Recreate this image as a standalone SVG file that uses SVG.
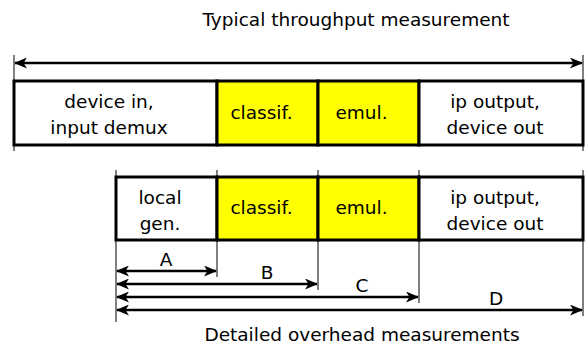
<svg xmlns="http://www.w3.org/2000/svg" width="587" height="345" viewBox="0 0 587 345">
<style>
text{font-family:"DejaVu Sans",sans-serif;font-size:18.5px;fill:#000;text-anchor:middle}
.box{stroke:#000;stroke-width:3}
.w{fill:#fff}.y{fill:#ffff00}
.tick{stroke:#000;stroke-width:1;fill:none}
.arr{stroke:#000;stroke-width:2.5;fill:none;marker-start:url(#ah);marker-end:url(#ah)}
</style>
<defs>
<marker id="ah" viewBox="0 0 13 11" refX="12" refY="5.5" markerWidth="13" markerHeight="11" markerUnits="userSpaceOnUse" orient="auto-start-reverse">
<path d="M0,0 L13,5.5 L0,11 L3.5,5.5 Z" fill="#000"/>
</marker>
</defs>
<rect width="587" height="345" fill="#fff"/>
<text x="356" y="26">Typical throughput measurement</text>
<text x="362" y="341">Detailed overhead measurements</text>
<g id="connectors">
<line class="tick" x1="14" y1="55" x2="14" y2="151"/>
<line class="tick" x1="583" y1="55" x2="583" y2="151"/>
<line class="arr" x1="15" y1="63" x2="582" y2="63"/>
<line class="tick" x1="116" y1="170" x2="116" y2="322"/>
<line class="tick" x1="217" y1="170" x2="217" y2="277"/>
<line class="tick" x1="318" y1="170" x2="318" y2="290"/>
<line class="tick" x1="419" y1="170" x2="419" y2="303"/>
<line class="tick" x1="583" y1="170" x2="583" y2="316"/>
<line class="arr" x1="117" y1="271" x2="216" y2="271"/>
<line class="arr" x1="117" y1="284" x2="317" y2="284"/>
<line class="arr" x1="117" y1="297" x2="418" y2="297"/>
<line class="arr" x1="117" y1="310" x2="582" y2="310"/>
<text x="166" y="266">A</text>
<text x="267" y="279">B</text>
<text x="362" y="292">C</text>
<text x="496" y="305">D</text>
</g>
<g id="top-device-in">
<rect class="box w" x="14" y="81" width="203" height="64"/>
<text x="109" y="108">device in,</text>
<text x="109" y="134">input demux</text>
</g>
<g id="top-classif">
<rect class="box y" x="217" y="81" width="101" height="64"/>
<text x="261.5" y="119">classif.</text>
</g>
<g id="top-emul">
<rect class="box y" x="318" y="81" width="101" height="64"/>
<text x="361.5" y="119">emul.</text>
</g>
<g id="top-ip-output">
<rect class="box w" x="419" y="81" width="164" height="64"/>
<text x="495" y="108">ip output,</text>
<text x="495" y="134">device out</text>
</g>
<g id="bot-local-gen">
<rect class="box w" x="116" y="177" width="101" height="63"/>
<text x="160" y="204">local</text>
<text x="160" y="230">gen.</text>
</g>
<g id="bot-classif">
<rect class="box y" x="217" y="177" width="101" height="63"/>
<text x="261.5" y="214">classif.</text>
</g>
<g id="bot-emul">
<rect class="box y" x="318" y="177" width="101" height="63"/>
<text x="361.5" y="214">emul.</text>
</g>
<g id="bot-ip-output">
<rect class="box w" x="419" y="177" width="164" height="63"/>
<text x="495" y="204">ip output,</text>
<text x="495" y="230">device out</text>
</g>
</svg>
